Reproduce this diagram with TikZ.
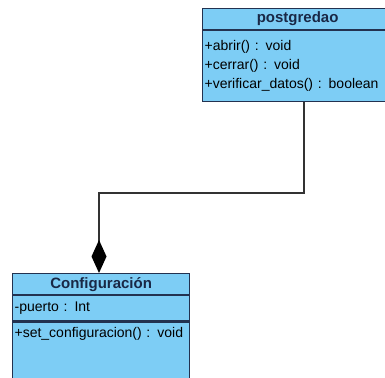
\documentclass[tikz,border=0pt]{standalone}
\usepackage{fontspec}
\setmainfont{Liberation Sans}
\usetikzlibrary{arrows.meta}
\definecolor{classfill}{RGB}{125,205,245}
\definecolor{classline}{RGB}{35,50,80}
\definecolor{titletext}{RGB}{25,40,70}

\begin{document}
\begin{tikzpicture}[x = 1pt, y = -1pt, line width = 1.2pt,
    ctitle/.style = {draw = classline, fill = classfill, anchor = north west, inner sep = 0pt,
        minimum height = 21pt, font = \fontsize{15}{17}\selectfont\bfseries, text = titletext},
    cbody/.style = {draw = classline, fill = classfill, anchor = north west, align = left,
        inner xsep = 2pt, font = \fontsize{14}{19}\selectfont},
    link/.style = {draw = black!80, line width = 1.3pt}]
\useasboundingbox (0,0) rectangle (385,377);
\node[ctitle, minimum width = 190pt] (pg) at (202,8) {postgredao};
\node[cbody, text width = 186pt, minimum height = 71pt] (pgops) at (pg.south west)
    {+abrir() : void\\+cerrar() : void\\+verificar\_datos() : boolean};
\node[ctitle, minimum width = 177pt] (cfg) at (12,273) {Configuración};
\node[cbody, text width = 173pt, minimum height = 25pt] (cfgattr) at (cfg.south west) {-puerto : Int};
\node[cbody, text width = 173pt, inner ysep = 5pt, text depth = 80pt] (cfgops) at (cfgattr.south west)
    {+set\_configuracion() : void};
\coordinate (b1) at (304,193);
\coordinate (b2) at (99,193);
\draw[link, -{Diamond[length = 33pt, width = 15pt, color = black]}] (pgops.south -| b1) -- (b1) -- (b2) -- (cfg.north -| b2);
\end{tikzpicture}
\end{document}
